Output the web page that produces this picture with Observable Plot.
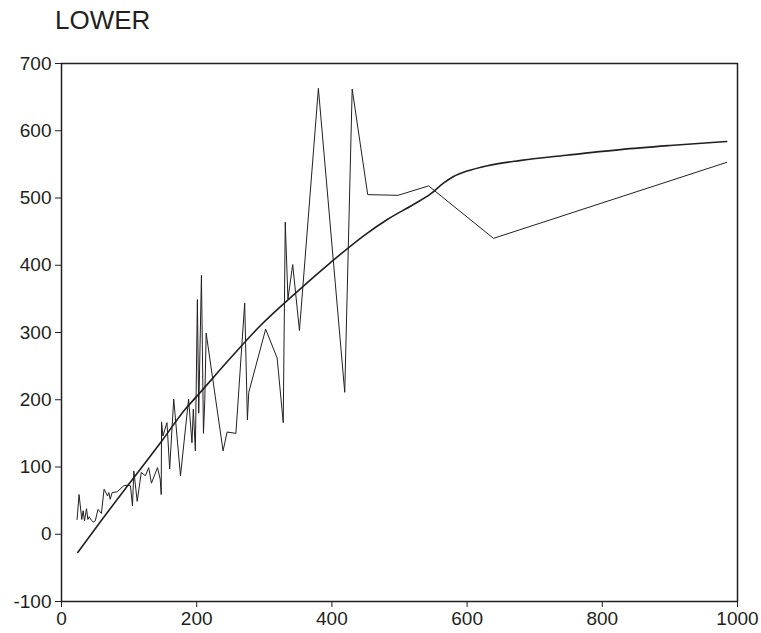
<!DOCTYPE html>
<html>
<head>
<meta charset="utf-8">
<script src="https://cdn.jsdelivr.net/npm/d3@7"></script>
<script src="https://cdn.jsdelivr.net/npm/@observablehq/plot@0.6"></script>
<style>
  html, body { margin: 0; padding: 0; background: #fff; }
  #wrap { position: relative; width: 761px; height: 633px; font-family: "Liberation Sans", Arial, sans-serif; }
  #title { position: absolute; left: 55px; top: 7px; font-size: 26px; line-height: 1; color: #231f20; z-index: 2; }
</style>
</head>
<body>
<div id="wrap"><div id="title"></div></div>
<script>
const title = "LOWER";
const xTicks = [0, 200, 400, 600, 800, 1000];
const yTicks = [-100, 0, 100, 200, 300, 400, 500, 600, 700];

// Observed (jagged) series
const obsX = [23, 26, 30, 32, 34, 37, 39, 41, 44, 47, 50, 54, 59, 63, 68, 70, 72, 75, 82, 92, 97, 102, 105, 107, 112, 118, 124, 129, 133, 142, 146, 147.5, 148, 150, 156, 160, 166, 176, 188, 193, 195, 198, 201, 203, 207, 210, 212, 214, 239, 245, 258, 271, 275, 277, 302, 319, 328, 331, 335, 342, 352, 380, 419, 430, 453, 498, 543, 639, 984];
const obsY = [22, 59, 22, 35, 20, 38, 22, 26, 21, 18, 20, 37, 31, 67, 57, 62, 52, 62, 63, 72, 73, 72, 42, 94, 49, 92, 87, 99, 76, 99, 82, 59, 167, 146, 166, 97, 201, 87, 201, 136, 186, 124, 349, 180, 385, 150, 200, 299, 124, 152, 150, 344, 170, 211, 305, 262, 166, 464, 350, 401, 303, 663, 211, 662, 505, 504, 518, 440, 553];

// Smoothed series
const fitX = [24, 60, 100, 150, 183, 200, 250, 294, 350, 398, 450, 482, 520, 546, 565, 580, 600, 630, 680, 750, 827, 900, 984];
const fitY = [-27, 22, 75, 141, 186, 205, 262, 310, 362, 404, 446, 468, 490, 506, 522, 532, 540, 548, 556, 564, 572, 578, 584];

document.getElementById("title").textContent = title;

const obs = obsX.map((x, i) => ({x, y: obsY[i]}));
const fit = fitX.map((x, i) => ({x, y: fitY[i]}));

const ink = "#231f20";
const chart = Plot.plot({
  width: 761,
  height: 633,
  marginLeft: 61,
  marginRight: 24,
  marginTop: 63,
  marginBottom: 32,
  style: {fontFamily: "Liberation Sans, Arial, sans-serif", fontSize: "19px", color: ink, background: "transparent"},
  x: {domain: [0, 1000]},
  y: {domain: [-100, 700]},
  marks: [
    Plot.axisX({ticks: xTicks, tickSize: 6, tickPadding: 4, tickFormat: d => String(d), label: null, fontSize: 19, stroke: ink}),
    Plot.axisY({ticks: yTicks, tickSize: 6, tickPadding: 4, tickFormat: d => String(d), label: null, fontSize: 19, stroke: ink}),
    Plot.line(obs, {x: "x", y: "y", stroke: ink, strokeWidth: 1}),
    Plot.line(fit, {x: "x", y: "y", stroke: ink, strokeWidth: 1.6, curve: "monotone-x"}),
    Plot.frame({stroke: ink, strokeWidth: 1.5})
  ]
});
chart.style.position = "absolute";
chart.style.left = "0";
chart.style.top = "0";
document.getElementById("wrap").appendChild(chart);
</script>
</body>
</html>
